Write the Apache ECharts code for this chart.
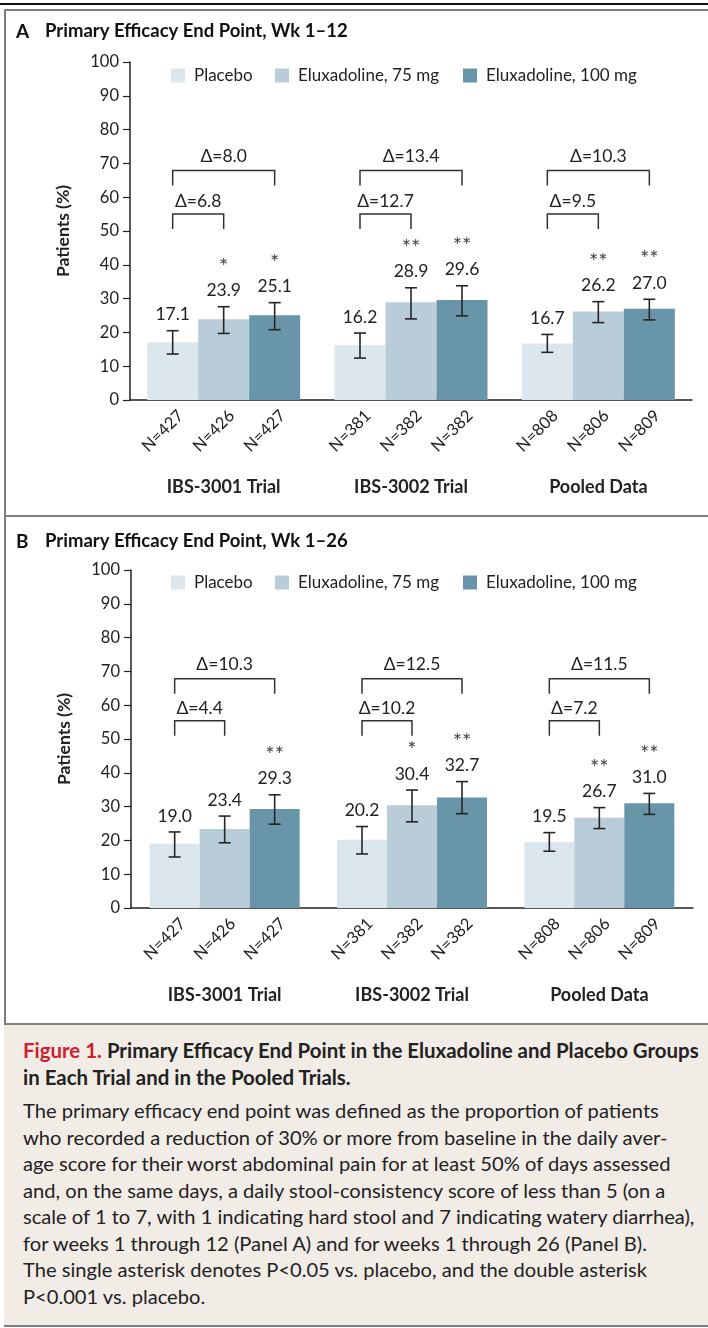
<!DOCTYPE html>
<html><head><meta charset="utf-8">
<script src="https://cdn.jsdelivr.net/npm/echarts@6/dist/echarts.min.js"></script>
<style>
html,body{margin:0;padding:0;background:#fff;}
body{width:708px;height:1328px;position:relative;overflow:hidden;font-family:Lato,"Open Sans",sans-serif;color:#222;}
.ln{position:absolute;}
#chart{position:absolute;left:0;top:0;width:708px;height:1022px;}
#cap{position:absolute;left:4px;top:1023px;width:704px;height:300px;background:#f2ece7;border-top:2px solid #7d7d7d;border-bottom:2px solid #7d7d7d;box-sizing:content-box;}
#capTitle{position:absolute;left:19px;top:12px;font-weight:bold;font-size:18px;line-height:27px;white-space:nowrap;color:#222;}
#capTitle .red{color:#d0202e;}
#capBody{position:absolute;left:19px;top:72px;font-size:17px;line-height:26.5px;white-space:nowrap;color:#222;}
</style></head>
<body>
<div class="ln" style="left:0;top:3px;width:708px;height:2px;background:#111"></div>
<div class="ln" style="left:4px;top:9px;width:704px;height:2px;background:#7d7d7d"></div>
<div class="ln" style="left:4px;top:9px;width:2px;height:1317px;background:#7d7d7d"></div>
<div class="ln" style="left:4px;top:515px;width:704px;height:2px;background:#7d7d7d"></div>
<div id="chart"></div>
<div id="cap">
 <div id="capTitle"><div><span class="red">Figure 1.</span> Primary Efficacy End Point in the Eluxadoline and Placebo Groups</div><div>in Each Trial and in the Pooled Trials.</div></div>
 <div id="capBody">
  <div>The primary efficacy end point was defined as the proportion of patients</div>
  <div>who recorded a reduction of 30% or more from baseline in the daily aver-</div>
  <div>age score for their worst abdominal pain for at least 50% of days assessed</div>
  <div>and, on the same days, a daily stool-consistency score of less than 5 (on a</div>
  <div>scale of 1 to 7, with 1 indicating hard stool and 7 indicating watery diarrhea),</div>
  <div>for weeks 1 through 12 (Panel A) and for weeks 1 through 26 (Panel B).</div>
  <div>The single asterisk denotes P&lt;0.05 vs. placebo, and the double asterisk</div>
  <div>P&lt;0.001 vs. placebo.</div>
 </div>
</div>
<script>
// ---------- data ----------
const groups = ['IBS-3001 Trial', 'IBS-3002 Trial', 'Pooled Data'];
const arms = ['Placebo', 'Eluxadoline, 75 mg', 'Eluxadoline, 100 mg'];
const yTicks = [0, 10, 20, 30, 40, 50, 60, 70, 80, 90, 100];

const nPlacebo = [427, 381, 808];
const n75 = [426, 382, 806];
const n100 = [427, 382, 809];

// Panel A: weeks 1-12
const aPlacebo = [17.1, 16.2, 16.7];
const a75 = [23.9, 28.9, 26.2];
const a100 = [25.1, 29.6, 27.0];
const aPlaceboLow = [13.6, 12.4, 14.1];
const aPlaceboHigh = [20.5, 19.8, 19.4];
const a75Low = [19.7, 24.0, 22.9];
const a75High = [27.6, 33.2, 29.1];
const a100Low = [20.8, 24.9, 23.7];
const a100High = [28.8, 33.8, 29.8];
const aStars75 = ['*', '**', '**'];
const aStars100 = ['*', '**', '**'];
const aDelta75 = [6.8, 12.7, 9.5];
const aDelta100 = [8.0, 13.4, 10.3];

// Panel B: weeks 1-26
const bPlacebo = [19.0, 20.2, 19.5];
const b75 = [23.4, 30.4, 26.7];
const b100 = [29.3, 32.7, 31.0];
const bPlaceboLow = [15.1, 16.0, 16.8];
const bPlaceboHigh = [22.5, 24.1, 22.3];
const b75Low = [19.3, 25.5, 23.5];
const b75High = [27.2, 34.9, 29.7];
const b100Low = [24.8, 27.9, 27.7];
const b100High = [33.5, 37.4, 33.9];
const bStars75 = ['', '*', '**'];
const bStars100 = ['**', '**', '**'];
const bDelta75 = [4.4, 10.2, 7.2];
const bDelta100 = [10.3, 12.5, 11.5];

// ---------- styles ----------
const colors = ['#dce6ed', '#b9cdd8', '#6995a9'];
const FONT = 'Lato';
const ink = '#222';

const panels = [
  { title: 'A', sub: 'Primary Efficacy End Point, Wk 1\u201312', grid: {left: 130, right: 16, top: 62, height: 338}, bw: 51,
    titleTop: 22, legendTop: 67, outer: 67.9, inner: 55.0,
    vals: [aPlacebo, a75, a100], lows: [aPlaceboLow, a75Low, a100Low], highs: [aPlaceboHigh, a75High, a100High],
    stars: [null, aStars75, aStars100], ns: [nPlacebo, n75, n100], d75: aDelta75, d100: aDelta100 },
  { title: 'B', sub: 'Primary Efficacy End Point, Wk 1\u201326', grid: {left: 131, right: 15, top: 570, height: 338}, bw: 50,
    titleTop: 532, legendTop: 574, outer: 67.8, inner: 55.4,
    vals: [bPlacebo, b75, b100], lows: [bPlaceboLow, b75Low, b100Low], highs: [bPlaceboHigh, b75High, b100High],
    stars: [null, bStars75, bStars100], ns: [nPlacebo, n75, n100], d75: bDelta75, d100: bDelta100 }
];

const option = {
  animation: false,
  textStyle: { fontFamily: FONT },
  title: [], legend: [], grid: [], xAxis: [], yAxis: [], series: []
};

const legendLefts = [171, 275, 463];

panels.forEach((p, pi) => {
  option.title.push({ text: p.title, left: 16, top: p.titleTop, padding: 0, textStyle: { fontFamily: FONT, fontSize: 19, fontWeight: 'bold', color: '#111' } });
  option.title.push({ text: p.sub, left: 45, top: p.titleTop, padding: 0, textStyle: { fontFamily: FONT, fontSize: 18.5, fontWeight: 'bold', color: '#111' } });
  arms.forEach((a, k) => {
    option.legend.push({ data: [a], left: legendLefts[k], top: p.legendTop, padding: 0, icon: 'rect', itemWidth: 14, itemHeight: 14,
      selectedMode: false, textStyle: { fontFamily: FONT, fontSize: 17, color: ink, padding: [0, 0, 0, 4] } });
  });
  option.grid.push(p.grid);
  option.xAxis.push({ type: 'category', gridIndex: pi, data: groups,
    axisLine: { lineStyle: { color: '#222', width: 1.5 } }, axisTick: { show: false },
    axisLabel: { margin: 78, fontFamily: FONT, fontWeight: 'bold', fontSize: 18, color: ink } });
  option.yAxis.push({ type: 'value', gridIndex: pi, min: yTicks[0], max: yTicks[yTicks.length - 1], interval: yTicks[1] - yTicks[0],
    axisLine: { show: true, lineStyle: { color: '#222', width: 1.5 } },
    axisTick: { show: true, length: 7, lineStyle: { color: '#222', width: 1.2 } },
    splitLine: { show: false },
    axisLabel: { margin: 11, fontFamily: FONT, fontSize: 16.5, color: ink },
    name: 'Patients (%)', nameLocation: 'middle', nameGap: 58,
    nameTextStyle: { fontFamily: FONT, fontSize: 17.5, fontWeight: 'bold', color: ink } });

  // bars
  arms.forEach((a, k) => {
    option.series.push({ type: 'bar', name: a, xAxisIndex: pi, yAxisIndex: pi, data: p.vals[k],
      barWidth: p.bw, barGap: '0%', itemStyle: { color: colors[k] }, silent: true, z: 2 });
  });

  // error bars, value labels, asterisks, N labels
  arms.forEach((a, k) => {
    const vals = p.vals[k], lows = p.lows[k], highs = p.highs[k], stars = p.stars[k], ns = p.ns[k];
    option.series.push({ type: 'custom', xAxisIndex: pi, yAxisIndex: pi, z: 5, silent: true,
      data: groups.map((g, j) => [j, lows[j], highs[j]]),
      renderItem: (params, api) => {
        const j = params.dataIndex;
        const base = api.coord([api.value(0), 0]);
        const x = base[0] + (k - 1) * p.bw;
        const yl = api.coord([api.value(0), api.value(1)])[1];
        const yh = api.coord([api.value(0), api.value(2)])[1];
        const ls = { stroke: '#262626', lineWidth: 1.6 };
        const ch = [
          { type: 'line', shape: { x1: x, y1: yl, x2: x, y2: yh }, style: ls },
          { type: 'line', shape: { x1: x - 6, y1: yh, x2: x + 6, y2: yh }, style: ls },
          { type: 'line', shape: { x1: x - 6, y1: yl, x2: x + 6, y2: yl }, style: ls },
          { type: 'text', x: x, y: yh - 16, style: { text: vals[j].toFixed(1), font: '17.5px ' + FONT, fill: ink, align: 'center', verticalAlign: 'middle' } },
          { type: 'text', x: x + 8, y: base[1] + 13, rotation: Math.PI / 4, style: { text: 'N=' + ns[j], font: '16.5px ' + FONT, fill: ink, align: 'right', verticalAlign: 'middle' } }
        ];
        if (stars && stars[j]) {
          ch.push({ type: 'text', x: x, y: yh - 40, style: { text: stars[j], font: '22px ' + FONT, fill: '#444', align: 'center', verticalAlign: 'middle' } });
        }
        return { type: 'group', children: ch };
      } });
  });

  // comparison brackets
  option.series.push({ type: 'custom', xAxisIndex: pi, yAxisIndex: pi, z: 5, silent: true,
    data: groups.map((g, j) => [j, p.d100[j], p.d75[j]]),
    encode: { x: 0, y: -1 },
    renderItem: (params, api) => {
      const j = params.dataIndex;
      const cx = api.coord([j, 0])[0];
      const x0 = cx - p.bw, x1 = cx, x2 = cx + p.bw;
      const yo = api.coord([j, p.outer])[1];
      const yi = api.coord([j, p.inner])[1];
      const ls = { stroke: '#333', lineWidth: 1.5, fill: null };
      const ts = { font: '17.5px ' + FONT, fill: ink, align: 'center', verticalAlign: 'middle' };
      return { type: 'group', children: [
        { type: 'polyline', shape: { points: [[x0, yo + 15], [x0, yo], [x2, yo], [x2, yo + 15]] }, style: ls },
        { type: 'polyline', shape: { points: [[x0, yi + 15], [x0, yi], [x1, yi], [x1, yi + 15]] }, style: ls },
        { type: 'text', x: (x0 + x2) / 2, y: yo - 14, style: Object.assign({ text: '\u0394=' + p.d100[j].toFixed(1) }, ts) },
        { type: 'text', x: (x0 + x1) / 2, y: yi - 12.5, style: Object.assign({ text: '\u0394=' + p.d75[j].toFixed(1) }, ts) }
      ] };
    } });
});

const chart = echarts.init(document.getElementById('chart'), null, { renderer: 'canvas' });
chart.setOption(option);

// fit caption font size so a reference line matches the reference width
function fit(el, lineIdx, target, base) {
  const line = el.querySelectorAll('div')[lineIdx];
  const r = document.createRange();
  r.selectNodeContents(line);
  const w = r.getBoundingClientRect().width;
  const fs = Math.max(14, Math.min(21, base * target / w));
  el.style.fontSize = fs.toFixed(2) + 'px';
}
function fitAll() {
  document.getElementById('capTitle').style.fontSize = '18px';
  document.getElementById('capBody').style.fontSize = '17px';
  fit(document.getElementById('capTitle'), 0, 676, 18);
  fit(document.getElementById('capBody'), 4, 672, 17);
}
fitAll();
if (document.fonts) document.fonts.ready.then(fitAll);
</script>
</body></html>
